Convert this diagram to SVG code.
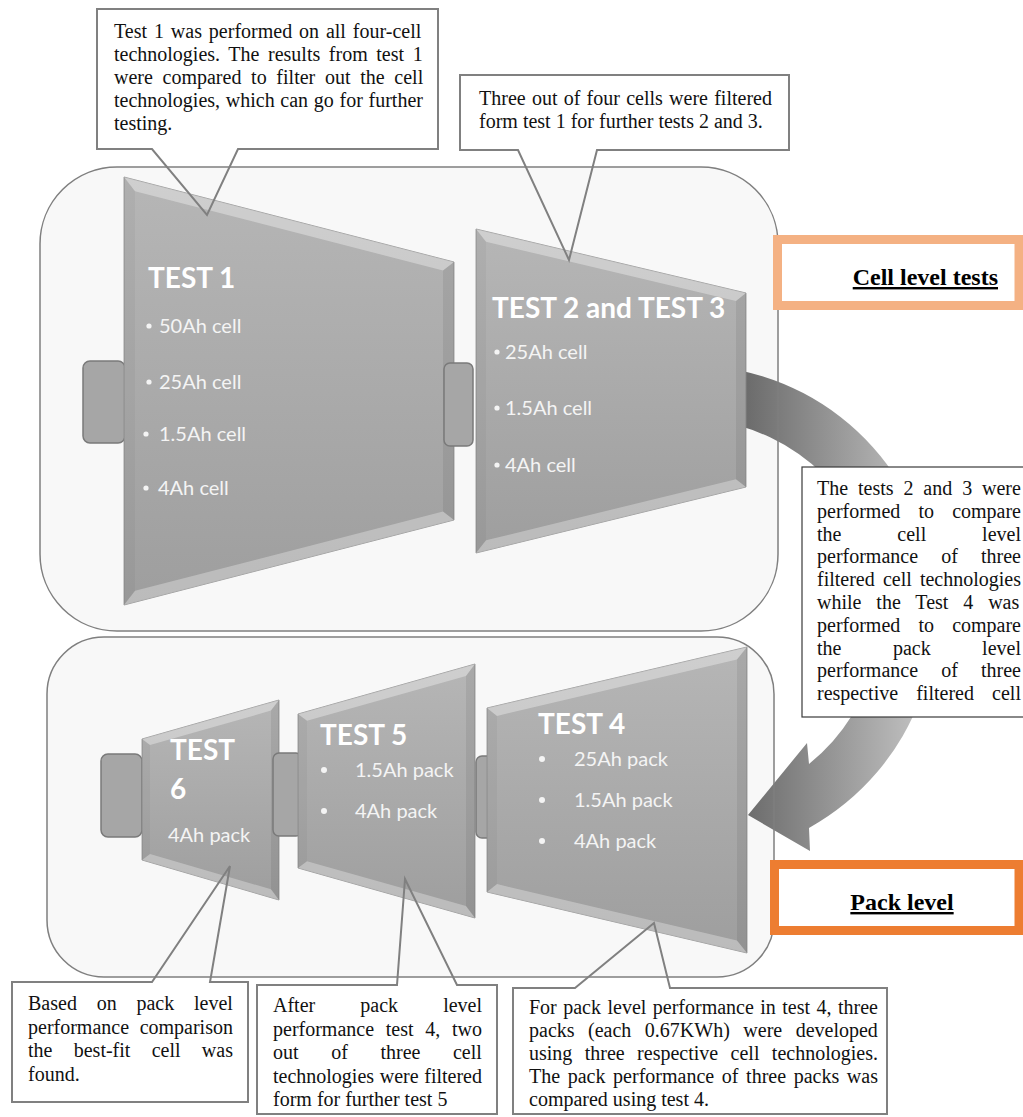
<svg xmlns="http://www.w3.org/2000/svg" width="1023" height="1117" viewBox="0 0 1023 1117">
<style>
.cont{fill:#f8f8f8;stroke:none}
.contS{fill:none;stroke:#7f7f7f;stroke-width:1.5}
.trap{fill:url(#tg);stroke:#8a8a8a;stroke-width:0.8}
.ft{fill:#fff;opacity:.34}
.fb{fill:#fff;opacity:.3}
.fr{fill:#000;opacity:.07}
.fl{fill:#000;opacity:.035}
.tab{fill:#a6a6a6;stroke:#7a7a7a;stroke-width:1.5}
.h{font-family:Lato,"Open Sans",sans-serif;font-weight:bold;font-size:28px;fill:#fff}
.b{font-family:Lato,"Open Sans",sans-serif;font-size:20px;fill:#f4f4f4}
.dot{fill:#f4f4f4}
.co{fill:none;stroke:#808080;stroke-width:2}
.t{font-family:"Liberation Serif","Times New Roman",serif;font-size:20px;fill:#111}
.lab{font-family:"Liberation Serif","Times New Roman",serif;font-size:24px;font-weight:bold;fill:#000;text-decoration:underline}
</style>
<defs>
<linearGradient id="tg" x1="0" y1="0" x2="0" y2="1">
<stop offset="0" stop-color="#b6b6b6"/>
<stop offset="1" stop-color="#9e9e9e"/>
</linearGradient>
<linearGradient id="ag" gradientUnits="userSpaceOnUse" x1="745" y1="0" x2="935" y2="0">
<stop offset="0" stop-color="#6b6b6b"/>
<stop offset="1" stop-color="#c8c8c8"/>
</linearGradient>
<rect id="c1" x="40" y="167" width="738" height="464" rx="77"/>
<rect id="c2" x="47" y="637" width="727" height="340" rx="57"/>
</defs>

<g id="containers">
<use href="#c1" class="cont"/>
<use href="#c2" class="cont"/>
</g>

<g id="connectors">
<path id="flow-arrow" d="M631,372 A247,247 0 0 1 809,828 L810,851 L748,815 L807,743 L809,764 A194,194 0 0 0 643,424 Z" fill="url(#ag)"/>
</g>

<g id="container-outlines">
<use href="#c1" class="contS"/>
<use href="#c2" class="contS"/>
</g>

<g id="test1">
<rect class="tab" x="83" y="361" width="42" height="82" rx="7"/>
<polygon class="trap" points="124,177 454,262 454,520 124,605"/>
<polygon class="ft" points="124,177 454,262 443,270.5 135,191.2"/>
<polygon class="fb" points="124,605 135,590.8 443,511.5 454,520"/>
<polygon class="fr" points="454,262 454,520 443,511.5 443,270.5"/>
<polygon class="fl" points="124,177 135,191.2 135,590.8 124,605"/>
<text class="h" x="148" y="288">TEST 1</text>
<circle class="dot" cx="149" cy="326" r="2.6"/><text class="b" x="159" y="333">50Ah cell</text>
<circle class="dot" cx="149" cy="382" r="2.6"/><text class="b" x="159" y="389">25Ah cell</text>
<circle class="dot" cx="146" cy="434" r="2.6"/><text class="b" x="159" y="441">1.5Ah cell</text>
<circle class="dot" cx="146" cy="488" r="2.6"/><text class="b" x="158" y="495">4Ah cell</text>
</g>

<g id="test23">
<rect class="tab" x="444" y="363" width="29" height="83" rx="6"/>
<polygon class="trap" points="476,229 746,293 746,487 476,553"/>
<polygon class="ft" points="476,229 746,293 736,300.9 486,241.7"/>
<polygon class="fb" points="476,553 486,540.3 736,479.2 746,487"/>
<polygon class="fr" points="746,293 746,487 736,479.2 736,300.9"/>
<polygon class="fl" points="476,229 486,241.7 486,540.3 476,553"/>
<text class="h" x="492" y="318">TEST 2 and TEST 3</text>
<circle class="dot" cx="497" cy="352" r="2.6"/><text class="b" x="505" y="359">25Ah cell</text>
<circle class="dot" cx="497" cy="408" r="2.6"/><text class="b" x="505" y="415">1.5Ah cell</text>
<circle class="dot" cx="497" cy="465" r="2.6"/><text class="b" x="505" y="472">4Ah cell</text>
</g>

<g id="test6">
<rect class="tab" x="101" y="754" width="41" height="83" rx="7"/>
<polygon class="trap" points="142,739 279,700 279,900 142,860"/>
<polygon class="ft" points="142,739 279,700 271,710.6 150,745.1"/>
<polygon class="fb" points="142,860 150,854 271,889.3 279,900"/>
<polygon class="fr" points="279,700 279,900 271,889.3 271,710.6"/>
<polygon class="fl" points="142,739 150,745.1 150,854 142,860"/>
<text class="h" x="170" y="760">TEST</text>
<text class="h" x="170" y="799">6</text>
<text class="b" x="168" y="842">4Ah pack</text>
</g>

<g id="test5">
<rect class="tab" x="273" y="753" width="29" height="83" rx="6"/>
<polygon class="trap" points="298,714 475,664 475,918 298,868"/>
<polygon class="ft" points="298,714 475,664 466,676 307,720.8"/>
<polygon class="fb" points="298,868 307,861.2 466,906.1 475,918"/>
<polygon class="fr" points="475,664 475,918 466,906.1 466,676"/>
<polygon class="fl" points="298,714 307,720.8 307,861.2 298,868"/>
<text class="h" x="320" y="745">TEST 5</text>
<circle class="dot" cx="324" cy="770" r="3"/><text class="b" x="355" y="777">1.5Ah pack</text>
<circle class="dot" cx="324" cy="811" r="3"/><text class="b" x="355" y="818">4Ah pack</text>
</g>

<g id="test4">
<rect class="tab" x="476" y="756" width="27" height="82" rx="6"/>
<polygon class="trap" points="487,708 747,647 747,953 487,892"/>
<polygon class="ft" points="487,708 747,647 737,659.6 497,715.9"/>
<polygon class="fb" points="487,892 497,884.1 737,940.4 747,953"/>
<polygon class="fr" points="747,647 747,953 737,940.4 737,659.6"/>
<polygon class="fl" points="487,708 497,715.9 497,884.1 487,892"/>
<text class="h" x="538" y="734">TEST 4</text>
<circle class="dot" cx="542" cy="759" r="3"/><text class="b" x="574" y="766">25Ah pack</text>
<circle class="dot" cx="542" cy="800" r="3"/><text class="b" x="574" y="807">1.5Ah pack</text>
<circle class="dot" cx="542" cy="841" r="3"/><text class="b" x="574" y="848">4Ah pack</text>
</g>

<g id="note-test1">
<path class="co" d="M97,9 H438 V149 H238 L207,215 L152,149 H97 Z"/>
<text class="t" x="114" y="38" style="word-spacing:1.9px">Test 1 was performed on all four-cell</text>
<text class="t" x="114" y="61" style="word-spacing:3.6px">technologies. The results from test 1</text>
<text class="t" x="114" y="84" style="word-spacing:4.7px">were compared to filter out the cell</text>
<text class="t" x="114" y="107" style="word-spacing:0.7px">technologies, which can go for further</text>
<text class="t" x="114" y="130">testing.</text>
</g>

<g id="note-test23">
<path class="co" d="M460,75 H789 V150 H597 L569,260 L518,150 H460 Z"/>
<text class="t" x="479" y="105" style="word-spacing:1.25px">Three out of four cells were filtered</text>
<text class="t" x="479" y="128">form test 1 for further tests 2 and 3.</text>
</g>

<g id="note-compare">
<rect x="802" y="467" width="230" height="250" fill="#fff" stroke="#3a3a3a" stroke-width="1.2"/>
<text class="t" x="817" y="495" style="word-spacing:4.9px">The tests 2 and 3 were</text>
<text class="t" x="817" y="517.8" style="word-spacing:13.15px">performed to compare</text>
<text class="t" x="817" y="540.6" style="word-spacing:50.9px">the cell level</text>
<text class="t" x="817" y="563.4" style="word-spacing:18.15px">performance of three</text>
<text class="t" x="817" y="586.2" style="word-spacing:3.15px">filtered cell technologies</text>
<text class="t" x="817" y="609" style="word-spacing:9.9px">while the Test 4 was</text>
<text class="t" x="817" y="631.8" style="word-spacing:13.15px">performed to compare</text>
<text class="t" x="817" y="654.6" style="word-spacing:46.45px">the pack level</text>
<text class="t" x="817" y="677.4" style="word-spacing:18.15px">performance of three</text>
<text class="t" x="817" y="700.2" style="word-spacing:13.15px">respective filtered cell</text>
</g>

<g id="note-test6">
<path class="co" d="M12,982 H152 L230,866 L210,982 H248 V1102 H12 Z"/>
<text class="t" x="28" y="1010" style="word-spacing:14.8px">Based on pack level</text>
<text class="t" x="28" y="1033.5" style="word-spacing:5.6px">performance comparison</text>
<text class="t" x="28" y="1057" style="word-spacing:16.3px">the best-fit cell was</text>
<text class="t" x="28" y="1080.5">found.</text>
</g>

<g id="note-test5">
<path class="co" d="M257,985 H397 L405,879 L457,985 H497 V1114 H257 Z"/>
<text class="t" x="273" y="1012" style="word-spacing:40.1px">After pack level</text>
<text class="t" x="273" y="1035.5" style="word-spacing:6.7px">performance test 4, two</text>
<text class="t" x="273" y="1059" style="word-spacing:27.6px">out of three cell</text>
<text class="t" x="273" y="1082.5" style="word-spacing:0.65px">technologies were filtered</text>
<text class="t" x="273" y="1106">form for further test 5</text>
</g>

<g id="note-test4">
<path class="co" d="M513,988 H575 L654,923 L670,988 H887 V1114 H513 Z"/>
<text class="t" x="529" y="1014" style="word-spacing:1.46px">For pack level performance in test 4, three</text>
<text class="t" x="529" y="1037" style="word-spacing:8.5px">packs (each 0.67KWh) were developed</text>
<text class="t" x="529" y="1060" style="word-spacing:7.4px">using three respective cell technologies.</text>
<text class="t" x="529" y="1083" style="word-spacing:2.63px">The pack performance of three packs was</text>
<text class="t" x="529" y="1106">compared using test 4.</text>
</g>

<g id="label-cell">
<rect x="777.5" y="239.5" width="241.5" height="66" fill="#fff" stroke="#f4b183" stroke-width="9"/>
<text class="lab" x="998" y="285" text-anchor="end">Cell level tests</text>
</g>

<g id="label-pack">
<rect x="774.5" y="864.5" width="244.5" height="66" fill="#fff" stroke="#ed7d31" stroke-width="9"/>
<text class="lab" x="902" y="910" text-anchor="middle">Pack level</text>
</g>
</svg>
